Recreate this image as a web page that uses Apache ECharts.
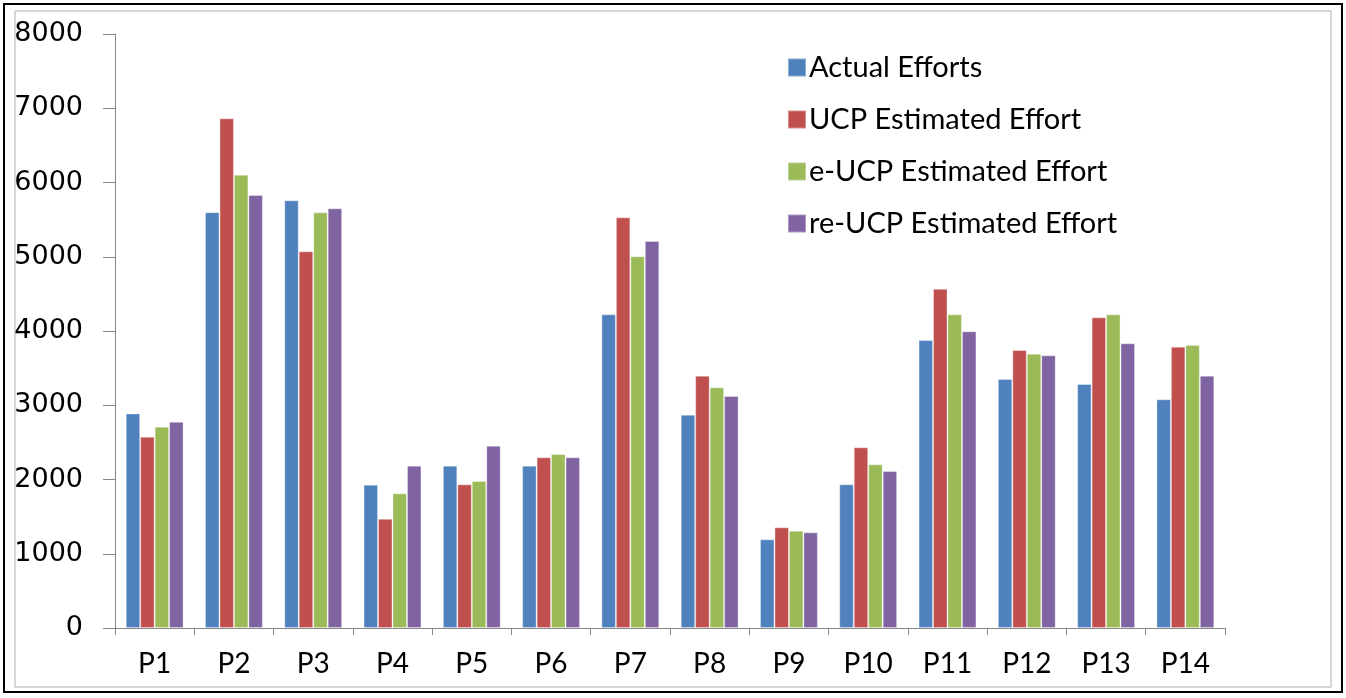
<!DOCTYPE html>
<html>
<head>
<meta charset="utf-8">
<script src="https://cdn.jsdelivr.net/npm/echarts@6/dist/echarts.min.js"></script>
<style>
  html, body { margin: 0; padding: 0; background: #fff; }
  #chart { width: 1346px; height: 698px; }
</style>
</head>
<body>
<div id="chart"></div>
<script>
const projects = ['P1', 'P2', 'P3', 'P4', 'P5', 'P6', 'P7', 'P8', 'P9', 'P10', 'P11', 'P12', 'P13', 'P14']
const actualEfforts = [2890, 5600, 5760, 1930, 2186, 2186, 4224, 2873, 1194, 1935, 3879, 3354, 3286, 3080]
const ucpEffort = [2577, 6864, 5073, 1470, 1935, 2299, 5531, 3398, 1356, 2433, 4570, 3744, 4184, 3789]
const eUcpEffort = [2712, 6106, 5598, 1814, 1980, 2343, 5006, 3241, 1311, 2204, 4224, 3694, 4224, 3811]
const reUcpEffort = [2779, 5832, 5652, 2186, 2456, 2299, 5212, 3125, 1288, 2114, 3996, 3672, 3834, 3398]

const chart = echarts.init(document.getElementById('chart'))

function bar(name, color, data) {
  return {
    name: name,
    type: 'bar',
    data: data,
    barGap: '0%',
    barCategoryGap: '27%',
    itemStyle: { color: color, borderColor: 'rgba(255,255,255,0.35)', borderWidth: 1 },
    emphasis: { disabled: true }
  }
}

chart.setOption({
  animation: false,
  textStyle: { fontFamily: 'Lato, sans-serif' },
  graphic: [
    { type: 'rect', shape: { x: 4, y: 4, width: 1338, height: 688 },
      style: { fill: 'none', stroke: '#000', lineWidth: 2 } },
    { type: 'rect', shape: { x: 15, y: 11, width: 1316, height: 676 },
      style: { fill: 'none', stroke: '#b0b0b0', lineWidth: 1 } }
  ],
  grid: { left: 115, right: 121, top: 34, bottom: 70 },
  legend: {
    orient: 'vertical',
    left: 782,
    top: 48,
    itemWidth: 18,
    itemHeight: 18,
    itemGap: 23,
    icon: 'rect',
    selectedMode: false,
    textStyle: { fontSize: 29, color: '#000', fontFamily: 'Lato', padding: [0, 0, 0, -2] },
    data: ['Actual Efforts', 'UCP Estimated Effort', 'e-UCP Estimated Effort', 're-UCP Estimated Effort']
  },
  xAxis: {
    type: 'category',
    data: projects,
    axisLine: { lineStyle: { color: '#868686', width: 1 } },
    axisTick: { show: true, length: 7, lineStyle: { color: '#868686' } },
    axisLabel: { fontSize: 28, color: '#000', margin: 22, fontFamily: 'Lato' }
  },
  yAxis: {
    type: 'value',
    min: 0,
    max: 8000,
    interval: 1000,
    splitLine: { show: false },
    axisLine: { show: true, lineStyle: { color: '#868686', width: 1 } },
    axisTick: { show: true, length: 12, lineStyle: { color: '#868686' } },
    axisLabel: {
      fontSize: 27, color: '#000', margin: 32, fontFamily: 'DejaVu Sans',
      formatter: function (v) { return String(v) }
    }
  },
  series: [
    bar('Actual Efforts', '#4F81BD', actualEfforts),
    bar('UCP Estimated Effort', '#C0504D', ucpEffort),
    bar('e-UCP Estimated Effort', '#9BBB59', eUcpEffort),
    bar('re-UCP Estimated Effort', '#8064A2', reUcpEffort)
  ]
})
</script>
</body>
</html>
